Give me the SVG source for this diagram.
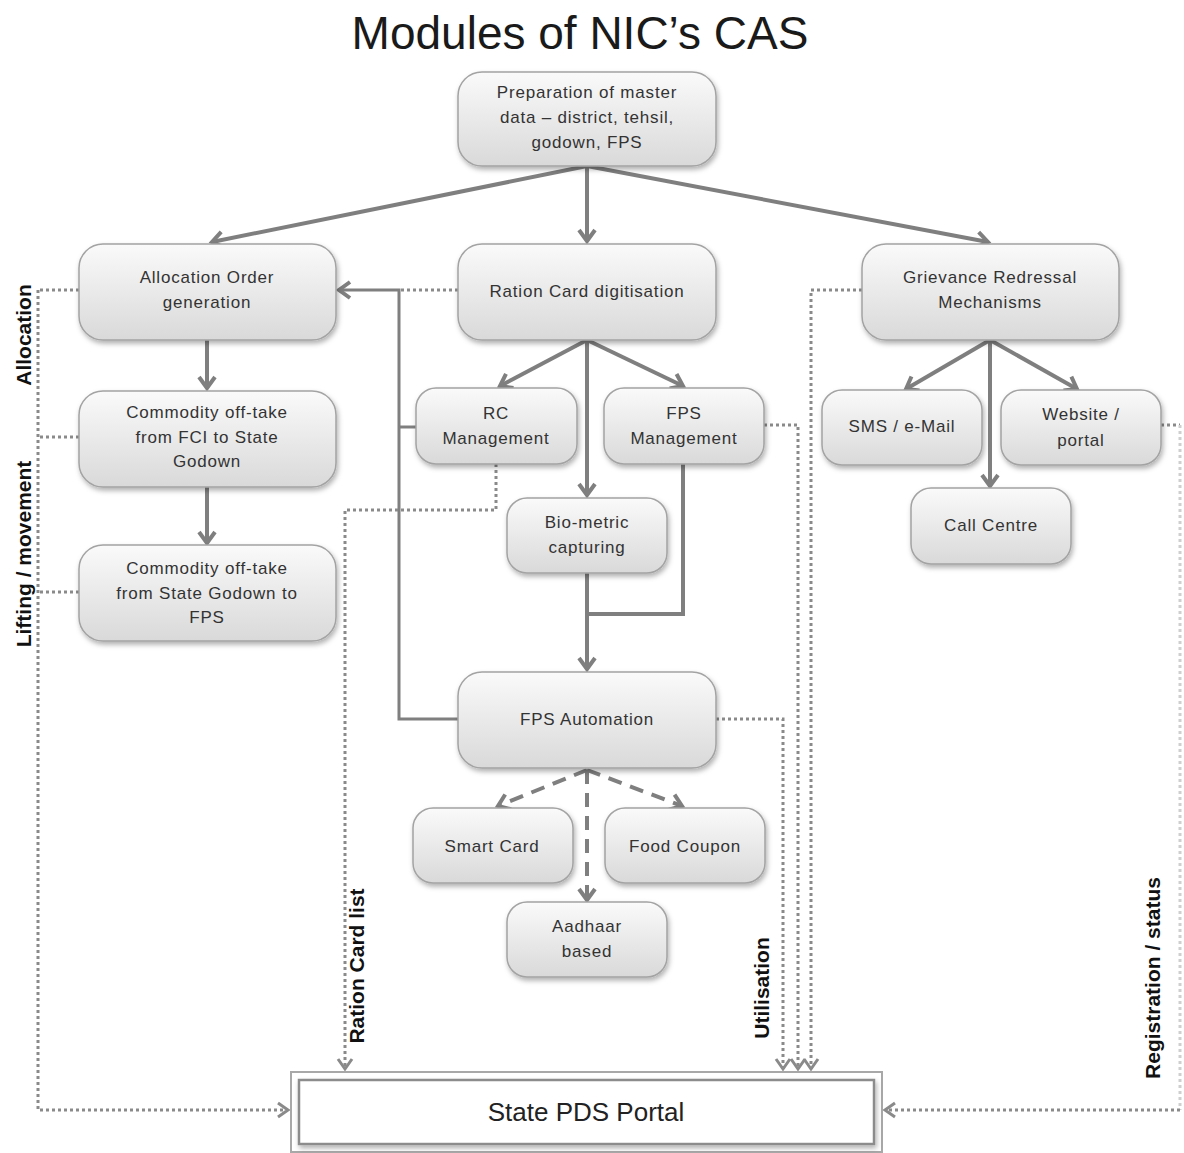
<svg xmlns="http://www.w3.org/2000/svg" width="1184" height="1153" viewBox="0 0 1184 1153">
<defs>
  <linearGradient id="g" x1="0" y1="0" x2="0" y2="1">
    <stop offset="0" stop-color="#fafafa"/>
    <stop offset="1" stop-color="#d9d9d9"/>
  </linearGradient>
  <filter id="sh" x="-10%" y="-10%" width="125%" height="135%">
    <feDropShadow dx="1.5" dy="3" stdDeviation="2.5" flood-color="#000" flood-opacity="0.3"/>
  </filter>
  <marker id="a" markerUnits="userSpaceOnUse" markerWidth="24" markerHeight="24" refX="0" refY="0" viewBox="-14 -12 18 24" orient="auto" overflow="visible">
    <path d="M-11,-8 L0,0 L-11,8" fill="none" stroke="#7f7f7f" stroke-width="4" stroke-linejoin="miter"/>
  </marker>
  <marker id="ad" markerUnits="userSpaceOnUse" markerWidth="20" markerHeight="20" refX="0" refY="0" viewBox="-12 -10 14 20" orient="auto" overflow="visible">
    <path d="M-10,-7 L0,0 L-10,7" fill="none" stroke="#8a8a8a" stroke-width="3"/>
  </marker>
</defs>
<style>
  .n rect { fill: url(#g); stroke: #a3a3a3; stroke-width: 1.5; filter: url(#sh); }
  .n text { font-family: "Liberation Sans", Arial, sans-serif; font-size: 17px; letter-spacing: 0.8px; fill: #333; text-anchor: middle; }
  .s { fill: none; stroke: #7f7f7f; stroke-width: 4; }
  .s3 { fill: none; stroke: #7f7f7f; stroke-width: 3; }
  .d { fill: none; stroke: #8a8a8a; stroke-width: 3; stroke-dasharray: 3 3; }
  .dl { fill: none; stroke: #cfcfcf; stroke-width: 3; stroke-dasharray: 3 3; }
  .ds { fill: none; stroke: #7f7f7f; stroke-width: 4; stroke-dasharray: 14 9; }
  .lbl { font-family: "Liberation Sans", Arial, sans-serif; font-size: 21px; font-weight: bold; fill: #111; text-anchor: middle; }
</style>
<rect width="1184" height="1153" fill="#fff"/>
<text x="580" y="49" font-family="Liberation Sans, Arial, sans-serif" font-size="46" fill="#1a1a1a" text-anchor="middle">Modules of NIC’s CAS</text>

<g id="connectors">
  <path class="s" d="M587,166 L212,242" marker-end="url(#a)"/>
  <path class="s" d="M587,166 L587,241" marker-end="url(#a)"/>
  <path class="s" d="M587,166 L988,242" marker-end="url(#a)"/>
  <path class="s" d="M207,340 L207,388" marker-end="url(#a)"/>
  <path class="s" d="M207,487 L207,543" marker-end="url(#a)"/>
  <path class="s" d="M587,340 L500,386" marker-end="url(#a)"/>
  <path class="s" d="M587,340 L587,495" marker-end="url(#a)"/>
  <path class="s" d="M587,340 L683,386" marker-end="url(#a)"/>
  <path class="s" d="M990,340 L906,389" marker-end="url(#a)"/>
  <path class="s" d="M990,340 L990,486" marker-end="url(#a)"/>
  <path class="s" d="M990,340 L1077,389" marker-end="url(#a)"/>
  <path class="s" d="M587,573 L587,669" marker-end="url(#a)"/>
  <path class="s" d="M683,464 L683,614 L587,614"/>
  <path class="s3" d="M458,719 L399,719 L399,290 L339,290" marker-end="url(#a)"/>
  <path class="s3" d="M416,427 L399,427"/>
  <path class="ds" d="M587,770 L498,806" marker-end="url(#a)"/>
  <path class="ds" d="M587,770 L587,900" marker-end="url(#a)"/>
  <path class="ds" d="M587,770 L682,806" marker-end="url(#a)"/>
  <path class="d" d="M458,290 L399,290"/>
  <path class="d" d="M79,290 L38,290"/>
  <path class="d" d="M79,437 L38,437"/>
  <path class="d" d="M79,592 L38,592"/>
  <path class="d" d="M38,290 L38,1110 L288,1110" marker-end="url(#ad)"/>
  <path class="d" d="M496,464 L496,510 L345,510 L345,1069" marker-end="url(#ad)"/>
  <path class="d" d="M716,719 L783,719 L783,1069" marker-end="url(#ad)"/>
  <path class="d" d="M764,425 L798,425 L798,1069" marker-end="url(#ad)"/>
  <path class="d" d="M862,290 L811,290 L811,1069" marker-end="url(#ad)"/>
  <path class="d" d="M1161,425 L1180,425"/>
  <path class="dl" d="M1180,425 L1180,1110"/>
  <path class="d" d="M1180,1110 L885,1110" marker-end="url(#ad)"/>
</g>

<g id="labels">
  <text class="lbl" transform="translate(31,335) rotate(-90)">Allocation</text>
  <text class="lbl" transform="translate(31,554) rotate(-90)">Lifting / movement</text>
  <text class="lbl" transform="translate(364,966) rotate(-90)">Ration Card list</text>
  <text class="lbl" transform="translate(769,988) rotate(-90)">Utilisation</text>
  <text class="lbl" transform="translate(1160,978) rotate(-90)">Registration / status</text>
</g>

<g id="n-prep" class="n"><rect x="458" y="72" width="258" height="94" rx="24"/>
  <text x="587" y="98">Preparation of master</text><text x="587" y="123">data – district, tehsil,</text><text x="587" y="148">godown, FPS</text></g>
<g id="n-alloc" class="n"><rect x="79" y="244" width="257" height="96" rx="24"/>
  <text x="207" y="283">Allocation Order</text><text x="207" y="308">generation</text></g>
<g id="n-ration" class="n"><rect x="458" y="244" width="258" height="96" rx="24"/>
  <text x="587" y="297">Ration Card digitisation</text></g>
<g id="n-griev" class="n"><rect x="862" y="244" width="257" height="96" rx="24"/>
  <text x="990" y="283">Grievance Redressal</text><text x="990" y="308">Mechanisms</text></g>
<g id="n-fci" class="n"><rect x="79" y="391" width="257" height="96" rx="24"/>
  <text x="207" y="418">Commodity off-take</text><text x="207" y="443">from FCI to State</text><text x="207" y="467">Godown</text></g>
<g id="n-sgf" class="n"><rect x="79" y="545" width="257" height="96" rx="24"/>
  <text x="207" y="574">Commodity off-take</text><text x="207" y="599">from State Godown to</text><text x="207" y="623">FPS</text></g>
<g id="n-rcm" class="n"><rect x="416" y="388" width="161" height="76" rx="20"/>
  <text x="496" y="419">RC</text><text x="496" y="444">Management</text></g>
<g id="n-fpsm" class="n"><rect x="604" y="388" width="160" height="76" rx="20"/>
  <text x="684" y="419">FPS</text><text x="684" y="444">Management</text></g>
<g id="n-bio" class="n"><rect x="507" y="498" width="160" height="75" rx="20"/>
  <text x="587" y="528">Bio-metric</text><text x="587" y="553">capturing</text></g>
<g id="n-fpsa" class="n"><rect x="458" y="672" width="258" height="96" rx="24"/>
  <text x="587" y="725">FPS Automation</text></g>
<g id="n-sms" class="n"><rect x="822" y="390" width="160" height="75" rx="20"/>
  <text x="902" y="432">SMS / e-Mail</text></g>
<g id="n-web" class="n"><rect x="1001" y="390" width="160" height="75" rx="20"/>
  <text x="1081" y="420">Website /</text><text x="1081" y="446">portal</text></g>
<g id="n-call" class="n"><rect x="911" y="488" width="160" height="76" rx="20"/>
  <text x="991" y="531">Call Centre</text></g>
<g id="n-smart" class="n"><rect x="413" y="808" width="160" height="75" rx="20"/>
  <text x="492" y="852">Smart Card</text></g>
<g id="n-food" class="n"><rect x="605" y="808" width="160" height="75" rx="20"/>
  <text x="685" y="852">Food Coupon</text></g>
<g id="n-aadhaar" class="n"><rect x="507" y="902" width="160" height="75" rx="20"/>
  <text x="587" y="932">Aadhaar</text><text x="587" y="957">based</text></g>
<g id="n-portal">
  <rect x="291" y="1072" width="591" height="80" fill="#fff" stroke="#a8a8a8" stroke-width="2"/>
  <rect x="299" y="1080" width="575" height="64" fill="#fff" stroke="#8c8c8c" stroke-width="2.5" filter="url(#sh)"/>
  <text x="586" y="1121" font-family="Liberation Sans, Arial, sans-serif" font-size="26" fill="#222" text-anchor="middle">State PDS Portal</text>
</g>
</svg>
